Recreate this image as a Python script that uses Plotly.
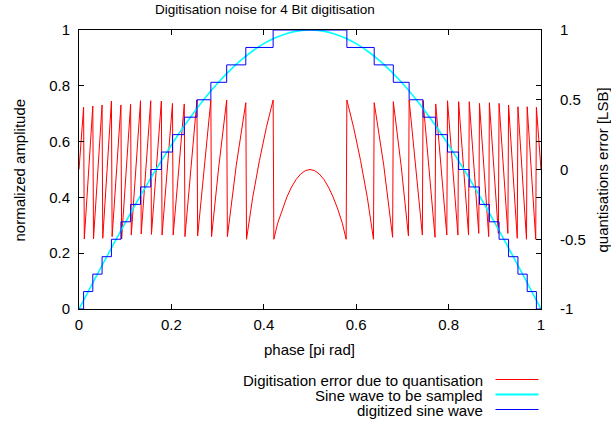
import plotly.graph_objects as go

# ---------------- data ----------------
# Sine wave to be sampled (normalized amplitude vs phase in pi rad)
sine_phase = [0.000, 0.025, 0.050, 0.075, 0.100, 0.125, 0.150, 0.175, 0.200, 0.225,
              0.250, 0.275, 0.300, 0.325, 0.350, 0.375, 0.400, 0.425, 0.450, 0.475,
              0.500, 0.525, 0.550, 0.575, 0.600, 0.625, 0.650, 0.675, 0.700, 0.725,
              0.750, 0.775, 0.800, 0.825, 0.850, 0.875, 0.900, 0.925, 0.950, 0.975, 1.000]
sine_amp = [0.0000, 0.0785, 0.1564, 0.2334, 0.3090, 0.3827, 0.4540, 0.5225, 0.5878, 0.6494,
            0.7071, 0.7604, 0.8090, 0.8526, 0.8910, 0.9239, 0.9511, 0.9724, 0.9877, 0.9969,
            1.0000, 0.9969, 0.9877, 0.9724, 0.9511, 0.9239, 0.8910, 0.8526, 0.8090, 0.7604,
            0.7071, 0.6494, 0.5878, 0.5225, 0.4540, 0.3827, 0.3090, 0.2334, 0.1564, 0.0785, 0.0000]

# Digitized sine wave: phase where the 4-bit code changes, and the code held from there on
digit_phase = [0.0, 0.00995, 0.02989, 0.04994, 0.07020, 0.09075, 0.11170, 0.13317, 0.15529,
               0.17828, 0.20236, 0.22786, 0.25528, 0.28542, 0.31966, 0.36107, 0.42021,
               0.57979, 0.63893, 0.68034, 0.71458, 0.74472, 0.77214, 0.79764, 0.82172,
               0.84471, 0.86683, 0.88830, 0.90925, 0.92980, 0.95006, 0.97011, 0.99005, 1.0]
digit_code = [0, 1, 2, 3, 4, 5, 6, 7, 8, 9, 10, 11, 12, 13, 14, 15, 16,
              15, 14, 13, 12, 11, 10, 9, 8, 7, 6, 5, 4, 3, 2, 1, 0, 0]
full_scale = 16

# Quantisation error [LSB] (sampled curve vertices)
error_phase = [0.0,
               0.00995, 0.0115, 0.02989, 0.0314, 0.04994, 0.0514, 0.07020, 0.0717,
               0.09075, 0.0923, 0.11170, 0.1132, 0.13317, 0.1347, 0.15529, 0.1568,
               0.17828, 0.1798, 0.20236, 0.2039, 0.22786, 0.2294, 0.25528, 0.2568,
               0.2704, 0.28542, 0.2869, 0.3025, 0.31966, 0.3212, 0.3404, 0.36107, 0.3626,
               0.3759, 0.3906, 0.4054, 0.42021, 0.4217,
               0.43, 0.44, 0.45, 0.46, 0.47, 0.48, 0.49, 0.50,
               0.51, 0.52, 0.53, 0.54, 0.55, 0.56, 0.57,
               0.5783, 0.57979, 0.5946, 0.6094, 0.6241, 0.6374, 0.63893,
               0.6596, 0.6788, 0.68034, 0.6975, 0.7131, 0.71458, 0.7296, 0.7432, 0.74472,
               0.7706, 0.77214, 0.7961, 0.79764, 0.8202, 0.82172, 0.8432, 0.84471,
               0.8653, 0.86683, 0.8868, 0.88830, 0.9077, 0.90925, 0.9283, 0.92980,
               0.9486, 0.95006, 0.9686, 0.97011, 0.9886, 0.99005, 1.0]
error_lsb = [0.0,
             0.446, -0.498, 0.455, -0.498, 0.462, -0.493, 0.491, -0.481,
             0.462, -0.498, 0.467, -0.470, 0.493, -0.462, 0.493, -0.465,
             0.491, -0.470, 0.474, -0.470, 0.470, -0.481, 0.498, -0.477,
             0.013, 0.498, -0.481, 0.019, 0.498, -0.481, 0.030, 0.479, -0.500,
             -0.201, 0.065, 0.299, 0.498, -0.500,
             -0.385, -0.283, -0.197, -0.126, -0.071, -0.032, -0.008, 0.000,
             -0.008, -0.032, -0.071, -0.126, -0.197, -0.283, -0.385,
             -0.500, 0.498, 0.299, 0.065, -0.201, -0.500, 0.479,
             0.030, -0.486, 0.486, 0.019, -0.477, 0.498, 0.013, -0.470, 0.493,
             -0.486, 0.470, -0.470, 0.493, -0.470, 0.486, -0.470, 0.486,
             -0.458, 0.474, -0.481, 0.479, -0.458, 0.474, -0.458, 0.462,
             -0.493, 0.450, -0.500, 0.450, -0.500, 0.446, 0.0]

x_ticks = [0, 0.2, 0.4, 0.6, 0.8, 1]
amp_ticks = [0, 0.2, 0.4, 0.6, 0.8, 1]
lsb_ticks = [-1, -0.5, 0, 0.5, 1]
lsb_labels = ["-1", "-0.5", "0", "0.5", "1"]

legend_names = ["Digitisation error due to quantisation",
                "Sine wave to be sampled",
                "digitized sine wave"]
colors = ["#ff0000", "#00ffff", "#0000ff"]
widths = [1, 1.6, 1]

# ---------------- figure ----------------
FONT = "Liberation Sans, Arial, Helvetica, sans-serif"
W, H = 611, 425
L, R, T, B = 79, 70, 30, 116
pw, ph = W - L - R, H - T - B

def px_x(px):
    return (px - L) / pw

def px_y(py):
    return (H - B - py) / ph

digit_amp = [c / full_scale for c in digit_code]

fig = go.Figure()
fig.add_trace(go.Scatter(x=error_phase, y=error_lsb, mode="lines", name=legend_names[0],
                         line=dict(color=colors[0], width=widths[0]), yaxis="y"))
fig.add_trace(go.Scatter(x=sine_phase, y=sine_amp, mode="lines", name=legend_names[1],
                         line=dict(color=colors[1], width=widths[1], shape="spline", smoothing=0.6),
                         yaxis="y2"))
fig.add_trace(go.Scatter(x=digit_phase, y=digit_amp, mode="lines", name=legend_names[2],
                         line=dict(color=colors[2], width=widths[2], shape="hv"), yaxis="y2"))

axis_common = dict(showgrid=False, zeroline=False, showline=True, linecolor="black", linewidth=1,
                   ticks="inside", ticklen=5, tickcolor="black", tickwidth=1,
                   tickfont=dict(family=FONT, size=15, color="black"))

fig.update_layout(
    width=W, height=H,
    margin=dict(l=L, r=R, t=T, b=B, pad=0),
    paper_bgcolor="white", plot_bgcolor="white",
    showlegend=False,
    xaxis=dict(range=[0, 1], tickvals=x_ticks, mirror="ticks", ticklabelstandoff=2, **axis_common),
    yaxis=dict(range=[-1, 1], side="right", tickvals=lsb_ticks, ticktext=lsb_labels,
               ticklabelstandoff=15, **axis_common),
    yaxis2=dict(range=[0, 1], side="left", overlaying="y", tickvals=amp_ticks,
                mirror="ticks", ticklabelstandoff=5, **axis_common),
)

annots = [
    dict(text="Digitisation noise for 4 Bit digitisation", x=px_x(264.5), y=px_y(9.5),
         font=dict(size=13.5)),
    dict(text="normalized amplitude", x=px_x(18.5), y=px_y(170), textangle=-90),
    dict(text="quantisations error [LSB]", x=px_x(601.5), y=px_y(170), textangle=-90),
    dict(text="phase [pi rad]", x=px_x(309), y=px_y(349)),
]
legend_y = [380, 395, 410]
for name, yy in zip(legend_names, legend_y):
    annots.append(dict(text=name, x=px_x(485), y=px_y(yy), xanchor="right"))
for a in annots:
    a.setdefault("xanchor", "center")
    a.setdefault("yanchor", "middle")
    a.setdefault("font", {})
    a["font"] = dict(family=FONT, color="black", size=a["font"].get("size", 15))
    fig.add_annotation(xref="paper", yref="paper", showarrow=False, **a)

for c, w, yy in zip(colors, widths, legend_y):
    fig.add_shape(type="line", xref="paper", yref="paper",
                  x0=px_x(495.5), x1=px_x(538.5), y0=px_y(yy - 0.5), y1=px_y(yy - 0.5),
                  line=dict(color=c, width=w + (0.6 if c == "#00ffff" else 0)))

fig.write_html(
    "out.html",
    config={"displayModeBar": False},
    post_script="document.body.style.margin='0';document.body.style.overflow='hidden';",
)
